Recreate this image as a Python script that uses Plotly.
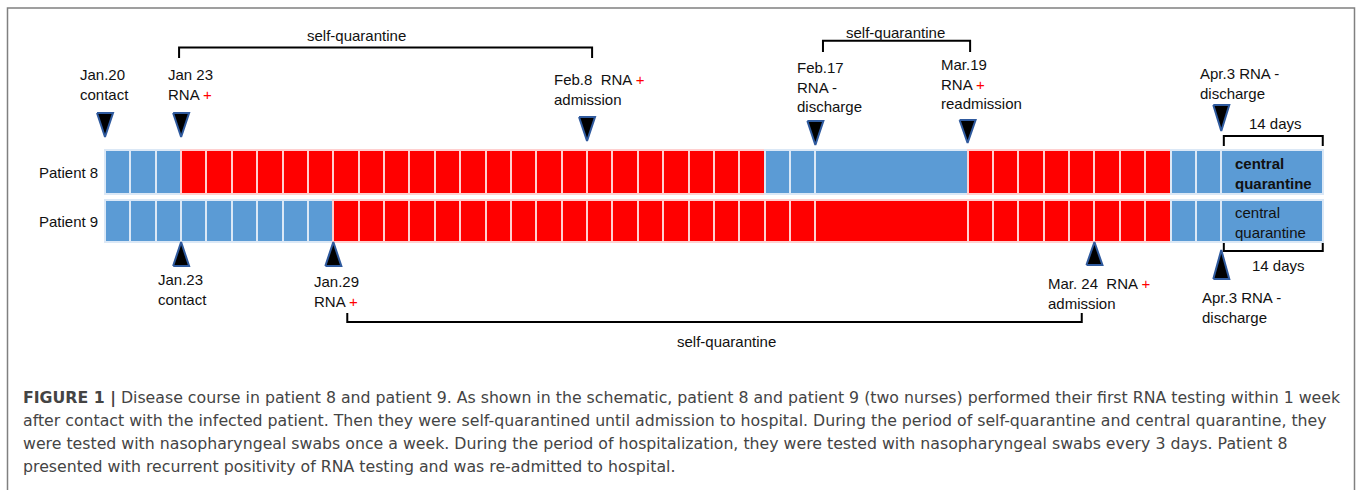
import plotly.graph_objects as go

# ---------------- data ----------------
# shared column grid: 28 day cells, one compressed 30-day block (Feb.17-Mar.19), 10 cells, central quarantine (14 days)
cell_widths = [1] * 28 + [6] + [1] * 10 + [4]
p8_status = ["neg"] * 3 + ["pos"] * 23 + ["neg"] * 2 + ["neg"] + ["pos"] * 8 + ["neg"] * 2 + ["neg"]
p9_status = ["neg"] * 9 + ["pos"] * 19 + ["pos"] + ["pos"] * 8 + ["neg"] * 2 + ["neg"]
patients = ["Patient 8", "Patient 9"]

p8_events = ["Jan.20<br>contact",
             "Jan 23<br>RNA <span style='color:#ff0000'>+</span>",
             "Feb.8&nbsp; RNA <span style='color:#ff0000'>+</span><br>admission",
             "Feb.17<br>RNA -<br>discharge",
             "Mar.19<br>RNA <span style='color:#ff0000'>+</span><br>readmission",
             "Apr.3 RNA -<br>discharge"]
p8_event_cols = [0, 3, 19, 28, 34, 44]

p9_events = ["Jan.23<br>contact",
             "Jan.29<br>RNA <span style='color:#ff0000'>+</span>",
             "Mar. 24&nbsp; RNA <span style='color:#ff0000'>+</span><br>admission",
             "Apr.3 RNA -<br>discharge"]
p9_event_cols = [3, 9, 39, 44]

caption_lines = [
    "<b>FIGURE 1 |</b> Disease course in patient 8 and patient 9. As shown in the schematic, patient 8 and patient 9 (two nurses) performed their first RNA testing within 1 week",
    "after contact with the infected patient. Then they were self-quarantined until admission to hospital. During the period of self-quarantine and central quarantine, they",
    "were tested with nasopharyngeal swabs once a week. During the period of hospitalization, they were tested with nasopharyngeal swabs every 3 days. Patient 8",
    "presented with recurrent positivity of RNA testing and was re-admitted to hospital.",
]

# ---------------- layout constants ----------------
W, H = 1357, 490
PITCH = 25.37
COL0 = 105
FONT = "Liberation Sans, Arial, sans-serif"
CAP_FONT = "DejaVu Sans, sans-serif"
BLUE = "#5b9bd5"
RED = "#ff0000"
row_center = {"Patient 8": 172, "Patient 9": 221}
row_height = {"Patient 8": 44, "Patient 9": 42}

colors = {"neg": BLUE, "pos": RED}
edge = {"neg": "#dbe8f6", "pos": "#ffd0d0"}

fig = go.Figure()

starts = []
s = 0
for w in cell_widths:
    starts.append(s)
    s += w

for name, status in zip(patients, [p8_status, p9_status]):
    fig.add_trace(go.Bar(
        orientation="h",
        y=[row_center[name]] * len(status),
        x=cell_widths,
        base=starts,
        width=row_height[name],
        marker=dict(color=[colors[v] for v in status],
                    line=dict(color=[edge[v] for v in status], width=2)),
        hoverinfo="skip", showlegend=False,
    ))

# triangles
tx, ty = [], []
hw = 8 / PITCH
top_tri = {0: (113, 137), 3: (113, 137), 19: (117, 141), 28: (121, 145), 34: (120, 143), 44: (105, 131)}
for c in p8_event_cols:
    b, t = top_tri[c]
    tx += [c - hw, c + hw, c, c - hw, None]
    ty += [b, b, t, b, None]
bot_tri = {3: (266, 242), 9: (266, 242), 39: (265, 242), 44: (279, 250)}
for c in p9_event_cols:
    b, t = bot_tri[c]
    tx += [c - hw, c + hw, c, c - hw, None]
    ty += [b, b, t, b, None]
fig.add_trace(go.Scatter(x=tx, y=ty, mode="lines", fill="toself", fillcolor="#000000",
                         line=dict(color="#2f5a9e", width=2), hoverinfo="skip", showlegend=False))

# brackets
brackets = [(2.92, 19.2, 47.5, 58), (28.3, 34.1, 40.7, 52), (9.55, 38.5, 322, 313),
            (44.1, 48.0, 136, 146), (44.1, 48.0, 251, 243)]
bx, by = [], []
for x0, x1, yl, yt in brackets:
    bx += [x0, x0, x1, x1, None]
    by += [yt, yl, yl, yt, None]
fig.add_trace(go.Scatter(x=bx, y=by, mode="lines", line=dict(color="#000000", width=2),
                         hoverinfo="skip", showlegend=False))

ann = []
def txt(x, y, text, xanchor="left", xshift=0, size=15, color="#111111", xref="x", family=FONT):
    ann.append(dict(x=x, y=y, xref=xref, yref="y", text=text, showarrow=False,
                    xanchor=xanchor, yanchor="middle", align="left", xshift=xshift,
                    font=dict(family=family, size=size, color=color)))

# event labels
top_lab = {0: (-27, 84), 3: (-15, 84), 19: (-35, 89.5), 28: (-20, 86.5), 34: (-29, 83.5), 44: (-23, 83)}
for t, c in zip(p8_events, p8_event_cols):
    dx, y = top_lab[c]
    txt(c, y, t, xshift=dx)
bot_lab = {3: (-25, 289), 9: (-21, 291.5), 39: (-48, 293), 44: (-21, 307.5)}
for t, c in zip(p9_events, p9_event_cols):
    dx, y = bot_lab[c]
    txt(c, y, t, xshift=dx)

txt(9.93, 35, "self-quarantine", xanchor="center")
txt(31.17, 32, "self-quarantine", xanchor="center")
txt(24.51, 341, "self-quarantine", xanchor="center")
txt(46.12, 123, "14 days", xanchor="center")
txt(46.24, 265, "14 days", xanchor="center")
txt(44.45, 173.5, "<b>central<br>quarantine</b>")
txt(44.45, 222.5, "central<br>quarantine")

for name in patients:
    txt(0, row_center[name], name, xanchor="right", xshift=-5)

cap_y = [397.5, 420.5, 443.5, 466.5]
for line, y in zip(caption_lines, cap_y):
    txt(21 / W, y, line, size=15.75, color="#444444", xref="paper", family=CAP_FONT)

fig.update_layout(
    width=W, height=H, margin=dict(l=0, r=0, t=0, b=0),
    paper_bgcolor="white", plot_bgcolor="white",
    barmode="overlay", bargap=0,
    xaxis=dict(range=[-COL0 / PITCH, (W - COL0) / PITCH], visible=False, fixedrange=True),
    yaxis=dict(range=[H, 0], visible=False, fixedrange=True),
    annotations=ann,
    shapes=[dict(type="rect", xref="paper", yref="paper", x0=7.5 / W, x1=1354.5 / W,
                 y0=-0.05, y1=1 - 8 / H, line=dict(color="#808080", width=1.5))],
)

fig.write_html("out.html", config={"displayModeBar": False},
               post_script="document.body.style.margin='0';document.body.style.overflow='hidden';")
